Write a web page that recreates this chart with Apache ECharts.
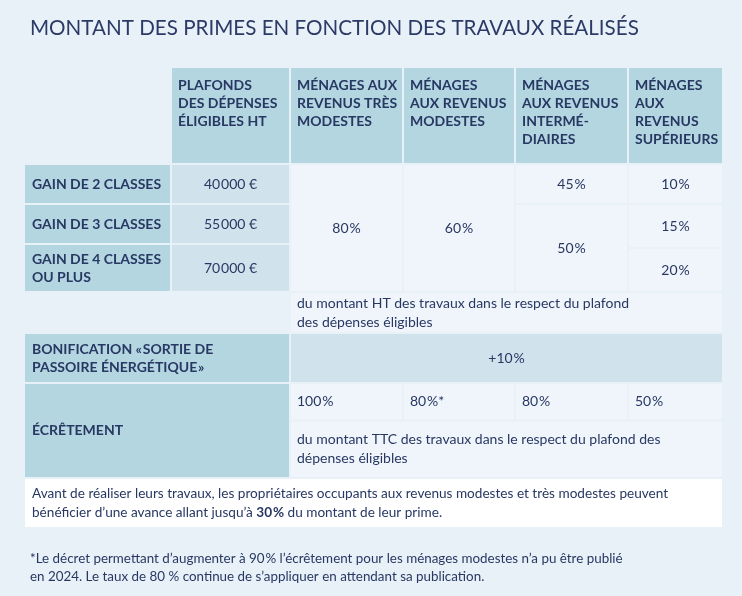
<!DOCTYPE html>
<html>
<head>
<meta charset="utf-8">
<script src="https://cdn.jsdelivr.net/npm/echarts@6/dist/echarts.min.js"></script>
<style>
html,body{margin:0;padding:0;background:#e8f1f7;}
#chart{width:742px;height:596px;}
</style>
</head>
<body>
<div id="chart"></div>
<script>
// ---------- DATA (texts of the table) ----------
const NS = '\u200A';
const chartTitle = 'MONTANT DES PRIMES EN FONCTION DES TRAVAUX RÉALISÉS';
const columnHeaders = [
  'PLAFONDS\nDES DÉPENSES\nÉLIGIBLES HT',
  'MÉNAGES AUX\nREVENUS TRÈS\nMODESTES',
  'MÉNAGES\nAUX REVENUS\nMODESTES',
  'MÉNAGES\nAUX REVENUS\nINTERMÉ-\nDIAIRES',
  'MÉNAGES\nAUX\nREVENUS\nSUPÉRIEURS'
];
const rowLabels = ['GAIN DE 2 CLASSES', 'GAIN DE 3 CLASSES', 'GAIN DE 4 CLASSES\nOU PLUS'];
const ceilings = ['40' + NS + '000 €', '55' + NS + '000 €', '70' + NS + '000 €'];
const rateVeryModest = '80' + NS + '%';
const rateModest = '60' + NS + '%';
const rateIntermediate = ['45' + NS + '%', '50' + NS + '%'];
const rateHigher = ['10' + NS + '%', '15' + NS + '%', '20' + NS + '%'];
const htNote = 'du montant HT des travaux dans le respect du plafond\ndes dépenses éligibles';
const bonusLabel = 'BONIFICATION «' + NS + 'SORTIE DE\nPASSOIRE ÉNERGÉTIQUE' + NS + '»';
const bonusRate = '+10' + NS + '%';
const capLabel = 'ÉCRÊTEMENT';
const capRates = ['100' + NS + '%', '80' + NS + '%*', '80' + NS + '%', '50' + NS + '%'];
const ttcNote = 'du montant TTC des travaux dans le respect du plafond des\ndépenses éligibles';
const advanceNote = 'Avant de réaliser leurs travaux, les propriétaires occupants aux revenus modestes et très modestes peuvent\nbénéficier d’une avance allant jusqu’à {b|30' + NS + '%} du montant de leur prime.';
const footnote = '*Le décret permettant d’augmenter à 90' + NS + '% l’écrêtement pour les ménages modestes n’a pu être publié\nen 2024. Le taux de 80 % continue de s’appliquer en attendant sa publication.';

// ---------- LAYOUT ----------
const COL = [24, 171, 290, 403, 515, 628, 723];
const ROW = [67, 164, 204, 244, 248, 292, 333, 383, 420.5, 478, 528];
const C = { dark: '#b3d6e1', mid: '#d0e3ec', light: '#eff5fa', white: '#ffffff', text: '#283863' };
const FONT = 'Lato, "Open Sans", sans-serif';

// cells: [c0, c1, r0, r1, fillKey, kind, text]
const cells = [];
columnHeaders.forEach((t, i) => cells.push([i + 1, i + 2, 0, 1, 'dark', 'head', t]));
const labelRows = [[1, 2], [2, 3], [3, 5]];
rowLabels.forEach((t, i) => cells.push([0, 1, labelRows[i][0], labelRows[i][1], 'dark', 'label', t]));
ceilings.forEach((t, i) => cells.push([1, 2, labelRows[i][0], labelRows[i][1], 'mid', 'center', t]));
cells.push([2, 3, 1, 5, 'light', 'center', rateVeryModest]);
cells.push([3, 4, 1, 5, 'light', 'center', rateModest]);
cells.push([4, 5, 1, 2, 'light', 'center', rateIntermediate[0]]);
cells.push([4, 5, 2, 5, 'light', 'center', rateIntermediate[1]]);
const higherRows = [[1, 2], [2, 4], [4, 5]];
rateHigher.forEach((t, i) => cells.push([5, 6, higherRows[i][0], higherRows[i][1], 'light', 'center', t]));
cells.push([2, 6, 5, 6, 'light', 'left', htNote]);
cells.push([0, 2, 6, 7, 'dark', 'label', bonusLabel]);
cells.push([2, 6, 6, 7, 'mid', 'center', bonusRate]);
cells.push([0, 2, 7, 9, 'dark', 'label', capLabel]);
capRates.forEach((t, i) => cells.push([i + 2, i + 3, 7, 8, 'light', 'left', t]));
cells.push([2, 6, 8, 9, 'light', 'left', ttcNote]);
cells.push([0, 6, 9, 10, 'white', 'note', advanceNote]);

const seriesData = cells.map((c, i) => ({ value: [COL[c[0]], COL[c[1]], ROW[c[2]], ROW[c[3]], i] }));

function renderItem(params, api) {
  const cell = cells[api.value(4)];
  const p0 = api.coord([api.value(0), api.value(2)]);
  const p1 = api.coord([api.value(1), api.value(3)]);
  const x = p0[0] + 1, y = p0[1] + 1, w = p1[0] - p0[0] - 2, h = p1[1] - p0[1] - 2;
  const kind = cell[5];
  const st = {
    text: cell[6], fill: C.text, fontFamily: FONT, fontSize: 14, lineHeight: 18,
    fontWeight: (kind === 'head' || kind === 'label') ? 'bold' : 'normal'
  };
  let tx, ty;
  if (kind === 'head') { tx = x + 6; ty = y + 8; st.align = 'left'; st.verticalAlign = 'top'; }
  else if (kind === 'center') { tx = x + w / 2; ty = y + h / 2; st.align = 'center'; st.verticalAlign = 'middle'; }
  else if (kind === 'label') { tx = x + 7; ty = y + h / 2; st.align = 'left'; st.verticalAlign = 'middle'; }
  else { tx = x + 6; ty = y + h / 2; st.align = 'left'; st.verticalAlign = 'middle'; st.lineHeight = 19; }
  if (kind === 'note') {
    tx = x + 7; st.fontSize = 13.6;
    st.rich = { b: { fontWeight: 'bold', fontFamily: FONT, fontSize: 13.6, fill: C.text, lineHeight: 19 } };
  }
  return {
    type: 'group',
    children: [
      { type: 'rect', shape: { x: x, y: y, width: w, height: h }, style: { fill: C[cell[4]] } },
      { type: 'text', x: tx, y: ty, style: st }
    ]
  };
}

const chart = echarts.init(document.getElementById('chart'), null, { renderer: 'canvas' });
chart.setOption({
  backgroundColor: '#e8f1f7',
  animation: false,
  title: [
    { text: chartTitle, left: 25, top: 13, textStyle: { fontFamily: FONT, fontSize: 20.6, fontWeight: 'normal', color: '#2b3a66' } },
    { text: footnote, left: 25, top: 545, textStyle: { fontFamily: FONT, fontSize: 13.4, fontWeight: 'normal', color: C.text, lineHeight: 18 } }
  ],
  grid: { left: 0, right: 0, top: 0, bottom: 0 },
  xAxis: { type: 'value', min: 0, max: 742, show: false },
  yAxis: { type: 'value', min: 0, max: 596, inverse: true, show: false },
  series: [{ type: 'custom', renderItem: renderItem, data: seriesData, clip: false }]
});
</script>
</body>
</html>
